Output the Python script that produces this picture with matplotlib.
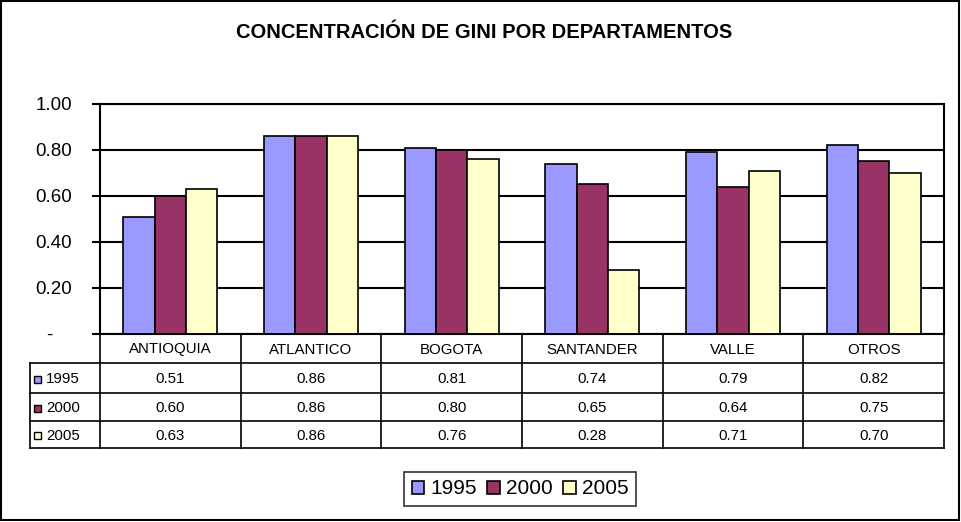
import matplotlib
matplotlib.use("Agg")
import matplotlib.pyplot as plt
import numpy as np

plt.rcParams['font.family'] = ['Liberation Sans', 'DejaVu Sans']

# data
departamentos = ['ANTIOQUIA', 'ATLANTICO', 'BOGOTA', 'SANTANDER', 'VALLE', 'OTROS']
anios = ['1995', '2000', '2005']
gini_1995 = [0.51, 0.86, 0.81, 0.74, 0.79, 0.82]
gini_2000 = [0.60, 0.86, 0.80, 0.65, 0.64, 0.75]
gini_2005 = [0.63, 0.86, 0.76, 0.28, 0.71, 0.70]
series = [gini_1995, gini_2000, gini_2005]
colores = ['#9999FF', '#993366', '#FFFFCC']
y_ticks = [0, 0.2, 0.4, 0.6, 0.8, 1.0]

W, H = 961, 522
fig = plt.figure(figsize=(W / 100, H / 100), dpi=100)

# plot area in pixels
left, right, top, bottom = 100, 944, 104, 334
ax = fig.add_axes([left / W, 1 - bottom / H, (right - left) / W, (bottom - top) / H])

n = len(departamentos)
bw = 1 / 4.5
x = np.arange(n) + 0.5
for k, (vals, c, lab) in enumerate(zip(series, colores, anios)):
    ax.bar(x + (k - 1) * bw, vals, bw, color=c, edgecolor='black', linewidth=1.2,
           label=lab, zorder=3)

ax.set_xlim(0, n)
ax.set_ylim(0, 1)
ax.set_yticks(y_ticks)
ax.set_yticklabels([''] + ['%.2f' % v for v in y_ticks[1:]], fontsize=13.5)
ax.set_xticks([])
ax.yaxis.grid(True, color='black', linewidth=1.5, zorder=0)
ax.tick_params(axis='y', direction='out', length=6, width=1.5, pad=14)
for s in ax.spines.values():
    s.set_linewidth(1.5)

# overlay in pixel coordinates for title, table and legend
ov = fig.add_axes([0, 0, 1, 1], zorder=5)
ov.set_xlim(0, W)
ov.set_ylim(H, 0)
ov.axis('off')
ov.patch.set_alpha(0)

ov.add_patch(plt.Rectangle((1, 1), W - 3, H - 3, fill=False, edgecolor='black', linewidth=1.5))
ov.text(W / 2 + 4, 33, 'CONCENTRACIÓN DE GINI POR DEPARTAMENTOS', ha='center', va='center',
        fontsize=14.5, fontweight='bold')
# accounting-style zero label
ov.text(49, 335, '-', ha='center', va='center', fontsize=13.5)

# data table
rows = [334, 363, 393, 421, 448]
col_w = (right - left) / n
cols = [left + i * col_w for i in range(n + 1)]
lab_left = 30
lw = 1.2
ov.plot([left, right], [rows[0], rows[0]], color='black', lw=lw)
for yv in rows[1:]:
    ov.plot([lab_left, right], [yv, yv], color='black', lw=lw)
for xv in cols:
    ov.plot([xv, xv], [rows[0], rows[-1]], color='black', lw=lw)
ov.plot([lab_left, lab_left], [rows[1], rows[-1]], color='black', lw=lw)

fs = 10.8
for i, d in enumerate(departamentos):
    ov.text(cols[i] + col_w / 2, (rows[0] + rows[1]) / 2 + 1, d, ha='center', va='center', fontsize=fs)
for r, (vals, c, lab) in enumerate(zip(series, colores, anios)):
    yc = (rows[r + 1] + rows[r + 2]) / 2 + 1
    ov.add_patch(plt.Rectangle((34, yc - 3.5), 7, 7, facecolor=c, edgecolor='black', linewidth=1))
    ov.text(46, yc, lab, ha='left', va='center', fontsize=fs)
    for i, v in enumerate(vals):
        ov.text(cols[i] + col_w / 2, yc, '%.2f' % v, ha='center', va='center', fontsize=fs)

leg = fig.legend(loc='center', bbox_to_anchor=(520 / W, 1 - 489 / H), ncol=3, fontsize=15,
                 frameon=True, fancybox=False, edgecolor='black', handlelength=0.6,
                 handleheight=0.6, handletextpad=0.3, columnspacing=0.5, borderpad=0.35)
leg.get_frame().set_linewidth(1.2)

fig.savefig('out.png', dpi=100)
